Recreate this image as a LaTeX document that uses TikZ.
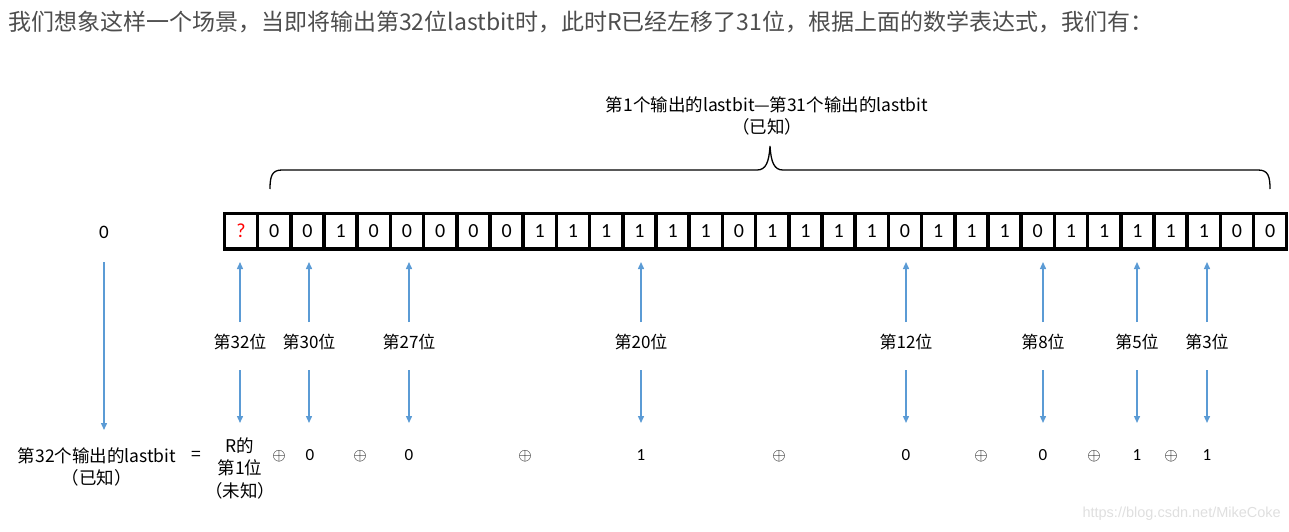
\documentclass[tikz,border=0pt]{standalone}
\usepackage{fontspec}
\setmainfont{Noto Sans CJK SC}
\newfontfamily\digitfont{Carlito}
\newfontfamily\urlfont{Liberation Sans}
\usetikzlibrary{arrows.meta,calc}
\definecolor{arrowblue}{HTML}{5B9BD5}
\definecolor{introgray}{HTML}{4D4D4D}
\tikzset{
  cell/.style={fill=white, minimum width=29.5pt, minimum height=32pt, inner sep=0pt,
    font=\digitfont\fontsize{20}{20}\selectfont},
  poslabel/.style={inner sep=0pt, font=\fontsize{17}{20}\selectfont},
  term/.style={inner sep=0pt, align=center, font=\fontsize{17.5}{22.5}\selectfont},
  bitval/.style={inner sep=0pt, font=\digitfont\fontsize{17}{20}\selectfont},
  xorsign/.style={inner sep=0pt, font=\fontsize{16}{20}\selectfont},
  bluearrow/.style={arrowblue, line width=1.4pt, -{Triangle[length=7pt,width=6pt]}},
}
\begin{document}
\begin{tikzpicture}[x=1pt,y=-1pt]
  \useasboundingbox (0,0) rectangle (1289,532);

  % Intro sentence
  \node[anchor=west, inner sep=0pt, text=introgray, font=\fontsize{23}{26}\selectfont] (intro) at (8,22)
    {我们想象这样一个场景，当即将输出第32位lastbit时，此时R已经左移了31位，根据上面的数学表达式，我们有：};

  % Register R
  \fill (222.5,212) rectangle (1288,251);
  \node[cell, text=red] (c0) at (241,231) {?};
  \foreach \b [count=\i from 1] in {0,0,1,0,0,0,0,0,1,1,1,1,1,1,0,1,1,1,1,0,1,1,1,0,1,1,1,1,1,0,0}
    \node[cell] (c\i) at (241+33.2*\i,231) {\b};

  % Brace over the known bits
  \draw[line width=1.3pt] (270,189) .. controls (270,176) and (272,170) .. (282,170) -- (757,170)
    .. controls (766,170) and (769,162) .. (770,146) .. controls (771,162) and (774,170) .. (783,170)
    -- (1258,170) .. controls (1268,170) and (1270,176) .. (1270,189);
  \node[term] (known) at (767,116) {第1个输出的lastbit—第31个输出的lastbit\\（已知）};

  % Output bit
  \node[inner sep=0pt, font=\digitfont\fontsize{19}{20}\selectfont] (zero) at (104,232) {0};
  \node[term] (out32) at (97,467) {第32个输出的lastbit\\（已知）};
  \draw[bluearrow, shorten <=30pt, shorten >=37pt] (zero.center) -- (zero.center |- out32.center);

  % Tapped positions
  \foreach \x/\k in {240/32,309/30,409/27,641/20,906/12,1043/8,1137/5,1207/3}{
    \node[poslabel] (p\k) at (\x,342) {第\k 位};
    \draw[bluearrow, shorten <=20pt, shorten >=31pt] (p\k.center) -- (p\k.center |- c0.center);
    \draw[bluearrow, shorten <=28pt, shorten >=32pt] (p\k.center) -- ($(p\k.center)+(0,113)$);
  }

  % Expression
  \node[term] (eq) at (196,456) {=};
  \node[term] (v32) at (240,468) {R的\\第1位\\（未知）};
  \foreach \x/\k/\t in {310/30/0,409/27/0,641/20/1,906/12/0,1043/8/0,1137/5/1,1207/3/1}
    \node[bitval] (v\k) at (\x,455) {\t};
  \foreach \x [count=\j] in {279,360,525,779,981,1094,1171}
    \node[xorsign] (xor\j) at (\x,456) {$\oplus$};

  % Watermark
  \node[anchor=east, inner sep=0pt, text=gray!25, font=\urlfont\fontsize{14.5}{16}\selectfont] (mark) at (1281,514)
    {https://blog.csdn.net/MikeCoke};
\end{tikzpicture}
\end{document}
